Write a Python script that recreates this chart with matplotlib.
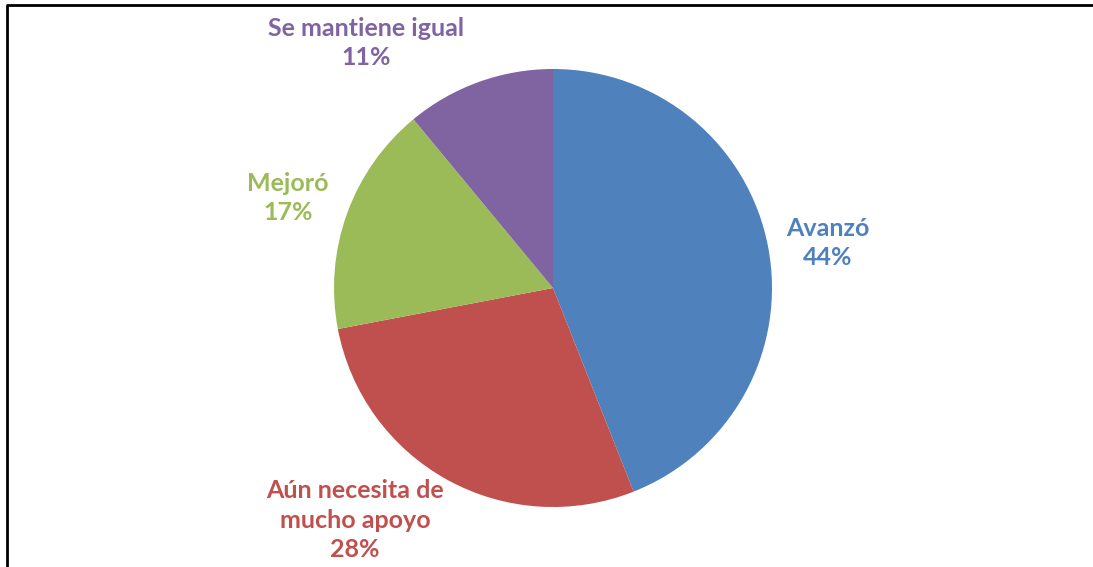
import matplotlib.pyplot as plt
from matplotlib.lines import Line2D

labels = ['Avanzó', 'Aún necesita de\nmucho apoyo', 'Mejoró', 'Se mantiene igual']
values = [44, 28, 17, 11]
colors = ['#4F81BD', '#C0504D', '#9BBB59', '#8064A2']
# label anchor positions (pixels, y measured from top)
label_pos = [(828, 243), (355, 520), (288, 198), (366, 43)]

W, H = 1093, 567
fig = plt.figure(figsize=(W / 100, H / 100), dpi=100)
ax = fig.add_axes([0, 0, 1, 1])

ax.pie(values, colors=colors, startangle=90, counterclock=False,
       center=(553, H - 288), radius=219, frame=True,
       wedgeprops=dict(linewidth=0))
ax.set_xlim(0, W)
ax.set_ylim(0, H)
ax.set_aspect('equal')
ax.axis('off')

for lab, v, c, (x, y) in zip(labels, values, colors, label_pos):
    ax.text(x, H - y, '%s\n%d%%' % (lab, v), color=c, ha='center', va='center',
            fontsize=18, fontweight='bold', family='Lato', linespacing=1.33)

# chart frame: only top and left edges fall inside the picture
fig.add_artist(Line2D([7 / W, 7 / W, 1.05], [-0.05, 1 - 5 / H, 1 - 5 / H],
                      transform=fig.transFigure, color='black', linewidth=2))

fig.savefig('out.png', dpi=100)
